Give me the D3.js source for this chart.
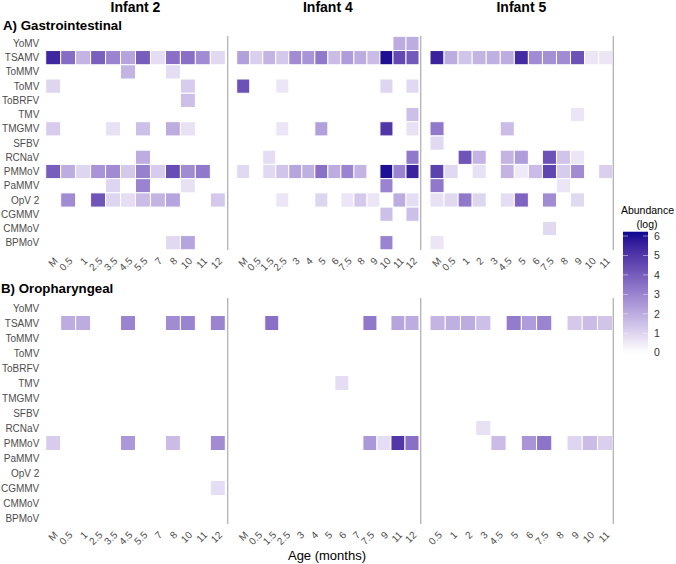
<!DOCTYPE html>
<html><head><meta charset="utf-8">
<script src="https://cdn.jsdelivr.net/npm/d3@7"></script>
<style>body{margin:0;background:#fff}svg{display:block}text{font-family:"Liberation Sans",Arial,sans-serif}</style>
</head><body>
<svg id="c" width="676" height="564"></svg>
<script>
// ---------------- DATA ----------------
const viruses = ["YoMV","TSAMV","ToMMV","ToMV","ToBRFV","TMV","TMGMV","SFBV","RCNaV","PMMoV","PaMMV","OpV 2","CGMMV","CMMoV","BPMoV"];
const infants = ["Infant 2","Infant 4","Infant 5"];
const panelTitles = ["A) Gastrointestinal","B) Oropharyngeal"];

// x categories (age, months) per infant, per sample type
const giAges2 = ["M","0.5","1","2.5","3.5","4.5","5.5","7","8","10","11","12"];
const giAges4 = ["M","0.5","1.5","2.5","3","4","5","6","7.5","8","9","10","11","12"];
const giAges5 = ["M","0.5","1","2","3","4.5","5","6","7.5","8","9","10","11"];
const orAges2 = ["M","0.5","1","2.5","3.5","4.5","5.5","7","8","10","11","12"];
const orAges4 = ["M","0.5","1.5","2.5","3","4","5","6","7","7.5","9","11","12"];
const orAges5 = ["0.5","1","2","3","4.5","5","6","7.5","8","9","10","11"];

// cells: [virus, age, log abundance]
const giCells2 = [
 ["TSAMV","M",5.4],["TSAMV","0.5",3.6],["TSAMV","1",1.8],["TSAMV","2.5",3.9],["TSAMV","3.5",3.0],["TSAMV","4.5",2.2],["TSAMV","5.5",4.0],["TSAMV","7",0.8],["TSAMV","8",3.5],["TSAMV","10",3.5],["TSAMV","11",2.8],["TSAMV","12",0.9],
 ["ToMMV","4.5",1.8],["ToMMV","8",0.8],
 ["ToMV","M",1.0],["ToMV","10",1.2],
 ["ToBRFV","10",1.5],
 ["TMGMV","M",1.2],["TMGMV","3.5",0.7],["TMGMV","5.5",1.5],["TMGMV","8",2.0],["TMGMV","10",0.7],
 ["RCNaV","5.5",2.0],
 ["PMMoV","M",4.0],["PMMoV","0.5",2.0],["PMMoV","1",1.0],["PMMoV","2.5",2.6],["PMMoV","3.5",2.8],["PMMoV","4.5",1.3],["PMMoV","5.5",3.1],["PMMoV","7",1.2],["PMMoV","8",4.4],["PMMoV","10",2.8],["PMMoV","11",3.3],
 ["PaMMV","3.5",1.0],["PaMMV","5.5",3.0],["PaMMV","10",0.7],
 ["OpV 2","0.5",2.8],["OpV 2","2.5",4.2],["OpV 2","3.5",1.0],["OpV 2","4.5",0.8],["OpV 2","5.5",1.6],["OpV 2","7",1.8],["OpV 2","8",2.2],["OpV 2","12",1.3],
 ["BPMoV","8",0.9],["BPMoV","10",2.2]
];
const giCells4 = [
 ["YoMV","11",2.0],["YoMV","12",2.0],
 ["TSAMV","M",2.3],["TSAMV","0.5",1.1],["TSAMV","1.5",1.8],["TSAMV","2.5",1.3],["TSAMV","3",2.8],["TSAMV","4",2.6],["TSAMV","5",3.3],["TSAMV","6",1.6],["TSAMV","7.5",2.4],["TSAMV","8",2.0],["TSAMV","9",1.6],["TSAMV","10",6.0],["TSAMV","11",4.5],["TSAMV","12",4.1],
 ["ToMV","M",4.3],["ToMV","2.5",0.6],["ToMV","10",1.0],["ToMV","12",0.9],
 ["TMV","12",1.5],
 ["TMGMV","2.5",0.6],["TMGMV","5",2.3],["TMGMV","10",5.0],["TMGMV","12",0.7],
 ["RCNaV","1.5",0.8],["RCNaV","12",3.3],
 ["PMMoV","M",0.9],["PMMoV","1.5",0.9],["PMMoV","2.5",1.4],["PMMoV","3",2.2],["PMMoV","4",1.9],["PMMoV","5",3.5],["PMMoV","6",2.0],["PMMoV","7.5",3.0],["PMMoV","8",1.8],["PMMoV","10",6.0],["PMMoV","11",3.0],["PMMoV","12",5.5],
 ["PaMMV","10",3.0],
 ["OpV 2","2.5",0.6],["OpV 2","5",1.0],["OpV 2","7.5",0.6],["OpV 2","8",1.3],["OpV 2","9",0.6],["OpV 2","11",2.0],["OpV 2","12",0.8],
 ["CGMMV","10",1.5],["CGMMV","12",1.5],
 ["BPMoV","10",3.0]
];
const giCells5 = [
 ["TSAMV","M",5.5],["TSAMV","0.5",2.0],["TSAMV","1",1.4],["TSAMV","2",1.8],["TSAMV","3",1.9],["TSAMV","4.5",2.0],["TSAMV","5",5.3],["TSAMV","6",2.8],["TSAMV","7.5",2.7],["TSAMV","8",2.8],["TSAMV","9",4.3],["TSAMV","10",0.6],["TSAMV","11",0.6],
 ["TMV","9",0.6],
 ["TMGMV","M",3.3],["TMGMV","4.5",1.6],
 ["SFBV","M",0.9],
 ["RCNaV","1",4.2],["RCNaV","2",1.8],["RCNaV","4.5",1.8],["RCNaV","5",2.4],["RCNaV","7.5",4.3],["RCNaV","8",1.4],["RCNaV","9",0.6],
 ["PMMoV","M",4.7],["PMMoV","0.5",0.9],["PMMoV","2",0.7],["PMMoV","4.5",1.8],["PMMoV","5",0.5],["PMMoV","6",1.6],["PMMoV","7.5",4.6],["PMMoV","8",1.2],["PMMoV","9",2.8],["PMMoV","11",1.1],
 ["PaMMV","M",3.3],["PaMMV","8",0.6],
 ["OpV 2","M",0.7],["OpV 2","0.5",0.9],["OpV 2","1",3.3],["OpV 2","2",1.0],["OpV 2","4.5",0.8],["OpV 2","5",3.8],["OpV 2","7.5",2.8],["OpV 2","9",0.9],
 ["CMMoV","7.5",0.9],
 ["BPMoV","M",0.6]
];
const orCells2 = [
 ["TSAMV","0.5",2.0],["TSAMV","1",2.0],["TSAMV","4.5",3.0],["TSAMV","8",2.8],["TSAMV","10",3.0],["TSAMV","12",3.0],
 ["PMMoV","M",1.2],["PMMoV","4.5",2.5],["PMMoV","8",1.6],["PMMoV","12",2.8],
 ["CGMMV","12",0.8]
];
const orCells4 = [
 ["TSAMV","1.5",3.5],["TSAMV","7.5",3.3],["TSAMV","11",2.2],["TSAMV","12",2.0],
 ["TMV","6",0.8],
 ["PMMoV","7.5",2.5],["PMMoV","9",0.8],["PMMoV","11",5.0],["PMMoV","12",3.5]
];
const orCells5 = [
 ["TSAMV","0.5",1.8],["TSAMV","1",1.9],["TSAMV","2",2.0],["TSAMV","3",1.5],["TSAMV","5",3.2],["TSAMV","6",2.4],["TSAMV","7.5",3.0],["TSAMV","9",1.3],["TSAMV","10",1.6],["TSAMV","11",1.4],
 ["RCNaV","3",0.7],
 ["PMMoV","4.5",1.6],["PMMoV","6",2.6],["PMMoV","7.5",3.4],["PMMoV","9",1.0],["PMMoV","10",1.6],["PMMoV","11",1.1]
];
const legendTicks = [0,1,2,3,4,5,6];
const xAxisTitle = "Age (months)";
const legendTitle = ["Abundance","(log)"];

// ---------------- DRAW ----------------
const svg = d3.select("#c");
const color = d3.scaleLinear().domain([0,3,6.2]).range(["#ffffff","#9a84d0","#0a0590"]).interpolate(d3.interpolateLab).clamp(true);

const panelX = [[45.7,225.3],[236.7,419.0],[430.0,612.7]];
const lineX = [227.7,420.7,613.3];
const rowsTop = {band:[36.3,249.8], line:[36,250], labY:256.5, title:29.5};
const rowsBot = {band:[300.5,525.5], line:[298,524], labY:530.5, title:293};

const groups = [
  {cfg:rowsTop, ages:[giAges2,giAges4,giAges5], cells:[giCells2,giCells4,giCells5], title:panelTitles[0], tx:3},
  {cfg:rowsBot, ages:[orAges2,orAges4,orAges5], cells:[orCells2,orCells4,orCells5], title:panelTitles[1], tx:1}
];

// strip titles
infants.forEach((inf,i)=>{
  svg.append("text").attr("x",(panelX[i][0]+panelX[i][1])/2).attr("y",12)
    .attr("text-anchor","middle").attr("font-size",14).attr("font-weight","bold").attr("fill","#000").text(inf);
});

groups.forEach(g=>{
  const y = d3.scaleBand().domain(viruses).range(g.cfg.band).padding(0);
  svg.append("text").attr("x",g.tx).attr("y",g.cfg.title).attr("font-size",13.3).attr("font-weight","bold").text(g.title);
  // y axis labels
  svg.append("g").selectAll("text").data(viruses).join("text")
    .attr("x",39.3).attr("y",d=>y(d)+y.bandwidth()/2).attr("dy","0.36em")
    .attr("text-anchor","end").attr("font-size",10).attr("fill","#4d4d4d").text(d=>d);
  g.ages.forEach((ages,i)=>{
    const x = d3.scaleBand().domain(ages).range(panelX[i]).padding(0);
    svg.append("g").selectAll("rect").data(g.cells[i]).join("rect")
      .attr("x",d=>x(d[1])).attr("y",d=>y(d[0])).attr("width",x.bandwidth()).attr("height",y.bandwidth())
      .attr("fill",d=>color(d[2])).attr("stroke","#fff").attr("stroke-width",1);
    svg.append("g").selectAll("text").data(ages).join("text")
      .attr("transform",d=>`translate(${x(d)+x.bandwidth()/2},${g.cfg.labY}) rotate(-45)`)
      .attr("dy","0.72em").attr("text-anchor","end").attr("font-size",10).attr("fill","#4d4d4d").text(d=>d);
  });
  lineX.forEach(lx=>{
    svg.append("line").attr("x1",lx).attr("x2",lx).attr("y1",g.cfg.line[0]).attr("y2",g.cfg.line[1])
      .attr("stroke","#b3b3b3").attr("stroke-width",1.3);
  });
});

// x axis title
svg.append("text").attr("x",327).attr("y",560).attr("text-anchor","middle").attr("font-size",13).attr("fill","#000").text(xAxisTitle);

// legend
const lv = d3.scaleLinear().domain([0,6]).range([352.7,236]);
const barTop = lv(6.22), barBot = lv(-0.2);
const defs = svg.append("defs");
const grad = defs.append("linearGradient").attr("id","lg").attr("x1",0).attr("x2",0).attr("y1",1).attr("y2",0);
d3.range(0,21).forEach(k=>{
  const v = -0.2 + k*(6.42/20);
  grad.append("stop").attr("offset",k/20).attr("stop-color",color(Math.max(0,v)));
});
svg.append("rect").attr("x",623).attr("y",barTop).attr("width",25).attr("height",barBot-barTop).attr("fill","url(#lg)");
const lg = svg.append("g");
legendTicks.forEach(t=>{
  lg.append("line").attr("x1",623).attr("x2",628).attr("y1",lv(t)).attr("y2",lv(t)).attr("stroke","#fff").attr("stroke-width",0.6).attr("opacity",0.8);
  lg.append("line").attr("x1",643).attr("x2",648).attr("y1",lv(t)).attr("y2",lv(t)).attr("stroke","#fff").attr("stroke-width",0.6).attr("opacity",0.8);
  lg.append("text").attr("x",654).attr("y",lv(t)).attr("dy","0.36em").attr("font-size",10.5).attr("fill","#333").text(t);
});
svg.append("text").attr("x",647.5).attr("y",214).attr("text-anchor","middle").attr("font-size",10.5).text(legendTitle[0]);
svg.append("text").attr("x",647).attr("y",227.5).attr("text-anchor","middle").attr("font-size",10.5).text(legendTitle[1]);
</script>
</body></html>
